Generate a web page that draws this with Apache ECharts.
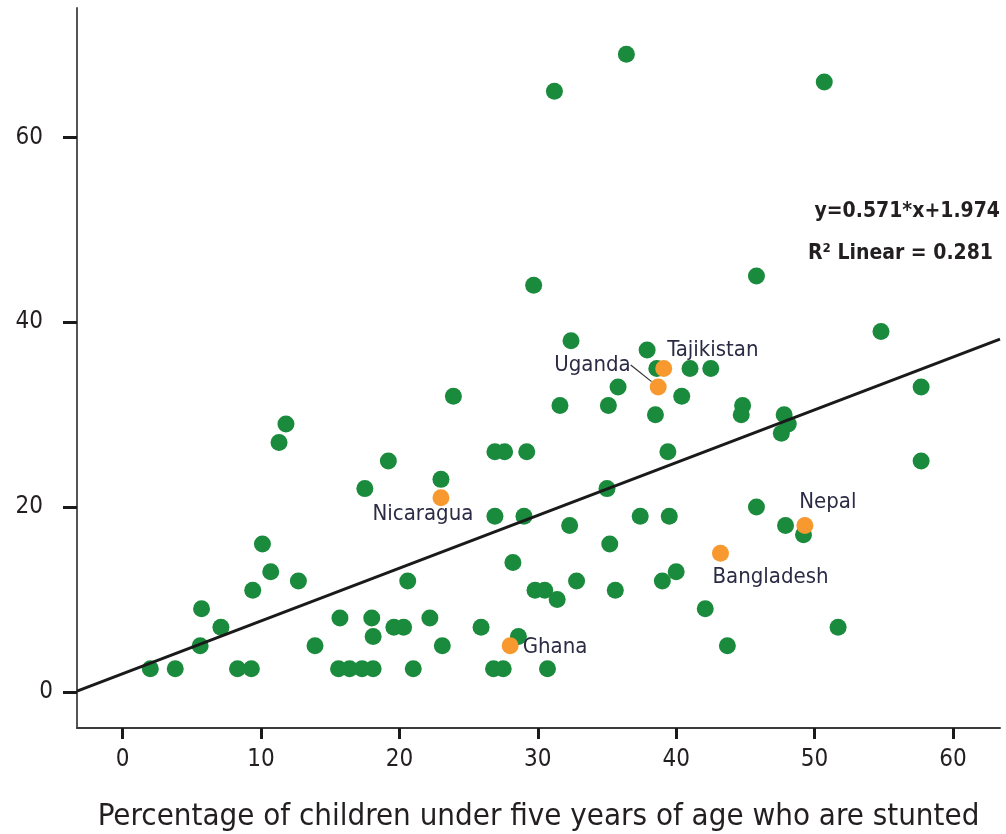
<!DOCTYPE html>
<html>
<head>
<meta charset="utf-8">
<script src="https://cdn.jsdelivr.net/npm/echarts@6/dist/echarts.min.js"></script>
<style>html,body{margin:0;padding:0;background:#fff}#c{width:1006px;height:834px}</style>
</head>
<body>
<div id="c"></div>
<script>
// Green points: [stunting %, y value]
const greenPoints = [
  [36.4,69],[31.2,65],[50.7,66],[29.7,44],[45.8,45],[54.8,39],[32.4,38],[37.9,37],
  [38.6,35],[41.0,35],[42.5,35],[35.8,33],[57.7,33],[40.4,32],[23.9,32],[31.6,31],
  [35.1,31],[44.8,31],[38.5,30],[44.7,30],[47.8,30],[48.1,29],[47.6,28],[11.8,29],
  [11.3,27],[26.9,26],[27.6,26],[29.2,26],[39.4,26],[57.7,25],[19.2,25],[23.0,23],
  [17.5,22],[35.0,22],[45.8,20],[26.9,19],[29.0,19],[37.4,19],[39.5,19],[32.3,18],
  [47.9,18],[49.2,17],[10.1,16],[35.2,16],[28.2,14],[10.7,13],[40.0,13],[12.7,12],
  [20.6,12],[32.8,12],[39.0,12],[9.4,11],[29.8,11],[30.5,11],[35.6,11],[31.4,10],
  [5.7,9],[42.1,9],[15.7,8],[18.0,8],[22.2,8],[7.1,7],[19.6,7],[20.3,7],[25.9,7],
  [51.7,7],[18.1,6],[28.6,6],[5.6,5],[13.9,5],[23.1,5],[43.7,5],[2.0,2.5],[3.8,2.5],
  [8.3,2.5],[9.3,2.5],[15.6,2.5],[16.4,2.5],[17.3,2.5],[18.1,2.5],[21.0,2.5],
  [26.8,2.5],[27.5,2.5],[30.7,2.5]
];
// Highlighted countries
const countryNames = ['Nicaragua','Uganda','Tajikistan','Nepal','Bangladesh','Ghana'];
const countryX = [23.0, 38.7, 39.1, 49.3, 43.2, 28.0];
const countryY = [21, 33, 35, 18, 15, 5];
// Regression
const slope = 0.571, intercept = 1.974;
const xTicks = [0,10,20,30,40,50,60];
const yTicks = [0,20,40,60];
const xMin = -3.3, xMax = 63.4, yMin = -3.9, yMax = 74;
const xTitle = 'Percentage of children under five years of age who are stunted';
const eqText = 'y=0.571*x+1.974';
const r2Text = 'R\u00b2 Linear = 0.281';

// label placement (position + shift in px)
const labelPos = {Nicaragua:'bottom', Uganda:'left', Tajikistan:'right', Nepal:'top', Bangladesh:'bottom', Ghana:'right'};
const labelShift = {Nicaragua:[-18,-8], Uganda:[-14,-22], Tajikistan:[-10,-18], Nepal:[23,1], Bangladesh:[50,-1], Ghana:[-1,2]};

const orangeData = countryNames.map((n,i)=>({
  name:n, value:[countryX[i], countryY[i]],
  label:{show:true, formatter:n, position:labelPos[n]},
  labelLine:{show: n==='Uganda'}
}));
const lineData = [[xMin, slope*xMin+intercept],[xMax, slope*xMax+intercept]];

const FONT = 'DejaVu Sans Condensed';
const chart = echarts.init(document.getElementById('c'), null, {renderer:'canvas'});
chart.setOption({
  animation:false,
  backgroundColor:'#fff',
  grid:{left:77, right:6, top:8, bottom:106, containLabel:false, outerBoundsMode:'none'},
  xAxis:{
    type:'value', min:xMin, max:xMax,
    splitLine:{show:false},
    axisLine:{show:true, onZero:false, lineStyle:{color:'#3a3a3a', width:2}},
    axisTick:{show:true, customValues:xTicks, length:11, lineStyle:{color:'#1a1a1a', width:3}},
    axisLabel:{customValues:xTicks, margin:20, fontSize:24, color:'#231f20', fontFamily:FONT},
    name:xTitle, nameLocation:'middle', nameGap:73,
    nameTextStyle:{fontSize:31, color:'#231f20', fontFamily:FONT}
  },
  yAxis:{
    type:'value', min:yMin, max:yMax,
    splitLine:{show:false},
    axisLine:{show:true, onZero:false, lineStyle:{color:'#555', width:2}},
    axisTick:{show:true, customValues:yTicks, length:14, lineStyle:{color:'#1a1a1a', width:3}},
    axisLabel:{customValues:yTicks, margin:24, fontSize:24, color:'#231f20', fontFamily:FONT,
      formatter:v => v===0 ? '{z|0}' : '{n|'+v+'}',
      rich:{z:{fontSize:24, color:'#231f20', fontFamily:FONT},
            n:{fontSize:24, color:'#231f20', fontFamily:FONT, padding:[0,10,0,0]}}}
  },
  series:[
    {
      type:'scatter', name:'countries', data:greenPoints, symbolSize:17,
      itemStyle:{color:'#1a8a3c', opacity:1}, z:2
    },
    {
      type:'line', name:'fit', data:lineData, showSymbol:false, symbol:'none',
      lineStyle:{color:'#1a1a1a', width:3}, z:3, silent:true
    },
    {
      type:'scatter', name:'highlight', data:orangeData, symbolSize:17,
      itemStyle:{color:'#f7992f', opacity:1}, z:4,
      label:{show:true, fontSize:22, color:'#2b2b45', fontFamily:FONT, distance:5},
      labelLine:{lineStyle:{color:'#333', width:1.2}},
      labelLayout:function(p){ const s = labelShift[countryNames[p.dataIndex]]; return {dx:s[0], dy:s[1]}; }
    }
  ],
  graphic:[
    {type:'text', right:6, top:201, style:{text:eqText, fill:'#231f20', font:'bold 21px "'+FONT+'"', textAlign:'right'}},
    {type:'text', right:13, top:243, style:{text:r2Text, fill:'#231f20', font:'bold 21px "'+FONT+'"', textAlign:'right'}}
  ]
});
</script>
</body>
</html>
